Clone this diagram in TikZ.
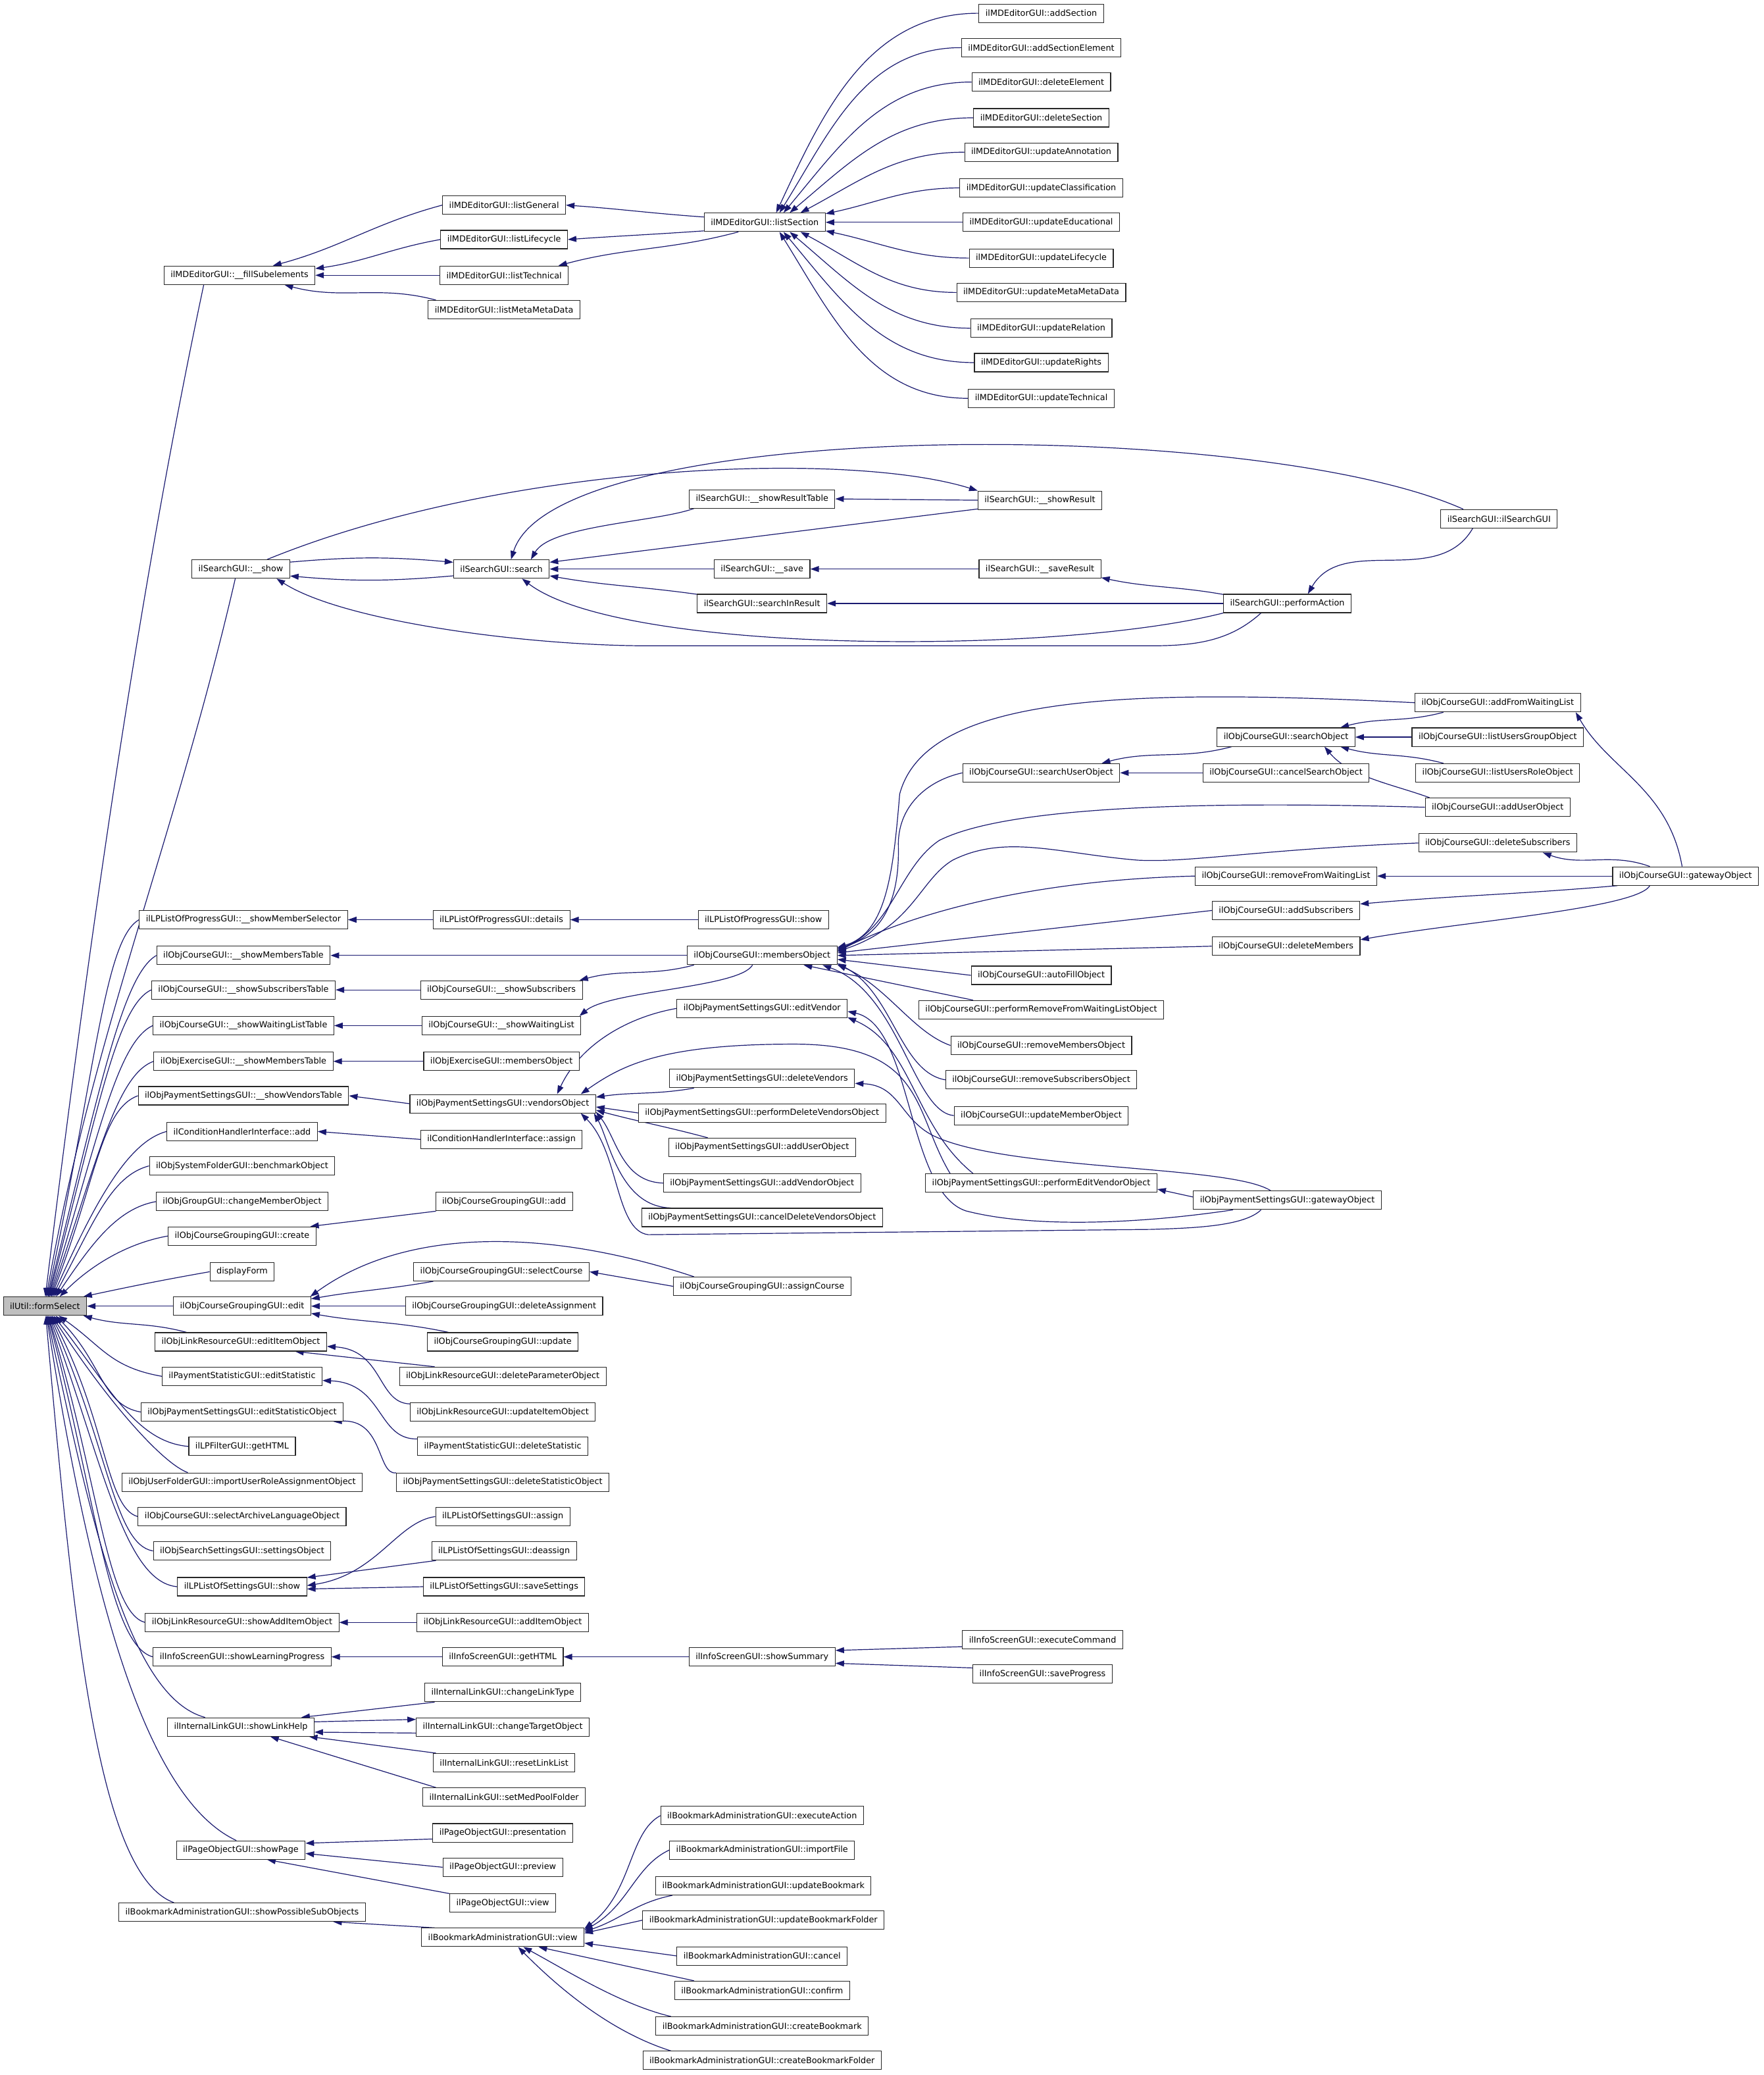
\documentclass[tikz,border=0pt]{standalone}
\usepackage{fontspec}
\setmainfont{DejaVu Sans}
\usetikzlibrary{arrows.meta,backgrounds}
\definecolor{edgeblue}{HTML}{191970}
\definecolor{curgray}{HTML}{BFBFBF}

\begin{document}
\begin{tikzpicture}[x=2.0105pt,y=-2.0105pt,
    every node/.style={font={\fontsize{12.8}{14}\selectfont}},
    fn/.style={rectangle,draw=black!85,line width=1.1pt,fill=white,minimum height=28pt,inner xsep=10pt,inner ysep=0pt},
    fncur/.style={fn,fill=curgray},
    call/.style={draw=edgeblue,line width=1.2pt,-{Triangle[length=13pt,width=9pt]}},
]
\useasboundingbox (0,0) rectangle (1333,1568);

% the function itself
\node[fncur] (fs) at (34,987) {ilUtil::formSelect};

% first level callers
\node[fn] (mdfill)      at (181,208)  {ilMDEditorGUI::\_\_fillSubelements};
\node[fn] (srshow)      at (182,430)  {ilSearchGUI::\_\_show};
\node[fn] (lpsel)       at (184,695)  {ilLPListOfProgressGUI::\_\_showMemberSelector};
\node[fn] (crsmemtab)   at (184,722)  {ilObjCourseGUI::\_\_showMembersTable};
\node[fn] (crssubtab)   at (184,748)  {ilObjCourseGUI::\_\_showSubscribersTable};
\node[fn] (crswaittab)  at (184,775)  {ilObjCourseGUI::\_\_showWaitingListTable};
\node[fn] (exctab)      at (184,802)  {ilObjExerciseGUI::\_\_showMembersTable};
\node[fn] (payventab)   at (184,828)  {ilObjPaymentSettingsGUI::\_\_showVendorsTable};
\node[fn] (condadd)     at (183,855)  {ilConditionHandlerInterface::add};
\node[fn] (sysbench)    at (183,881)  {ilObjSystemFolderGUI::benchmarkObject};
\node[fn] (grpchange)   at (183,908)  {ilObjGroupGUI::changeMemberObject};
\node[fn] (cgcreate)    at (183,934)  {ilObjCourseGroupingGUI::create};
\node[fn] (dispform)    at (183,961)  {displayForm};
\node[fn] (cgedit)      at (183,987)  {ilObjCourseGroupingGUI::edit};
\node[fn] (lredit)      at (182,1014) {ilObjLinkResourceGUI::editItemObject};
\node[fn] (psedit)      at (183,1040) {ilPaymentStatisticGUI::editStatistic};
\node[fn] (payeditstat) at (183,1067) {ilObjPaymentSettingsGUI::editStatisticObject};
\node[fn] (lpfilter)    at (183,1093) {ilLPFilterGUI::getHTML};
\node[fn] (usrimport)   at (183,1120) {ilObjUserFolderGUI::importUserRoleAssignmentObject};
\node[fn] (crsarch)     at (183,1146) {ilObjCourseGUI::selectArchiveLanguageObject};
\node[fn] (srset)       at (183,1172) {ilObjSearchSettingsGUI::settingsObject};
\node[fn] (lpsetshow)   at (183,1199) {ilLPListOfSettingsGUI::show};
\node[fn] (lrshowadd)   at (183,1226) {ilObjLinkResourceGUI::showAddItemObject};
\node[fn] (infolp)      at (183,1252) {ilInfoScreenGUI::showLearningProgress};
\node[fn] (ilhelp)      at (182,1305) {ilInternalLinkGUI::showLinkHelp};
\node[fn] (pgshow)      at (182,1398) {ilPageObjectGUI::showPage};
\node[fn] (bmsub)       at (183,1445) {ilBookmarkAdministrationGUI::showPossibleSubObjects};

% second level
\node[fn] (mdgen)       at (381,155)  {ilMDEditorGUI::listGeneral};
\node[fn] (mdlife)      at (381,181)  {ilMDEditorGUI::listLifecycle};
\node[fn] (mdtech)      at (381,208)  {ilMDEditorGUI::listTechnical};
\node[fn] (mdmeta)      at (381,234)  {ilMDEditorGUI::listMetaMetaData};
\node[fn] (srsearch)    at (379,430)  {ilSearchGUI::search};
\node[fn] (lpdet)       at (379,695)  {ilLPListOfProgressGUI::details};
\node[fn] (crssub)      at (379,748)  {ilObjCourseGUI::\_\_showSubscribers};
\node[fn] (crswait)     at (379,775)  {ilObjCourseGUI::\_\_showWaitingList};
\node[fn] (excmem)      at (379,802)  {ilObjExerciseGUI::membersObject};
\node[fn] (payven)      at (380,834)  {ilObjPaymentSettingsGUI::vendorsObject};
\node[fn] (condassign)  at (379,861)  {ilConditionHandlerInterface::assign};
\node[fn] (cgadd)       at (381,908)  {ilObjCourseGroupingGUI::add};
\node[fn] (cgselect)    at (379,961)  {ilObjCourseGroupingGUI::selectCourse};
\node[fn] (cgdelassign) at (381,987)  {ilObjCourseGroupingGUI::deleteAssignment};
\node[fn] (cgupdate)    at (380,1014) {ilObjCourseGroupingGUI::update};
\node[fn] (lrdelparam)  at (380,1040) {ilObjLinkResourceGUI::deleteParameterObject};
\node[fn] (lrupdate)    at (380,1067) {ilObjLinkResourceGUI::updateItemObject};
\node[fn] (psdel)       at (380,1093) {ilPaymentStatisticGUI::deleteStatistic};
\node[fn] (paydelstat)  at (380,1120) {ilObjPaymentSettingsGUI::deleteStatisticObject};
\node[fn] (lpassign)    at (380,1146) {ilLPListOfSettingsGUI::assign};
\node[fn] (lpdeassign)  at (381,1172) {ilLPListOfSettingsGUI::deassign};
\node[fn] (lpsave)      at (381,1199) {ilLPListOfSettingsGUI::saveSettings};
\node[fn] (lradd)       at (380,1226) {ilObjLinkResourceGUI::addItemObject};
\node[fn] (infohtml)    at (380,1252) {ilInfoScreenGUI::getHTML};
\node[fn] (illtype)     at (380,1279) {ilInternalLinkGUI::changeLinkType};
\node[fn] (iltarget)    at (380,1305) {ilInternalLinkGUI::changeTargetObject};
\node[fn] (ilreset)     at (381,1332) {ilInternalLinkGUI::resetLinkList};
\node[fn] (ilmedpool)   at (381,1358) {ilInternalLinkGUI::setMedPoolFolder};
\node[fn] (pgpres)      at (380,1385) {ilPageObjectGUI::presentation};
\node[fn] (pgprev)      at (380,1411) {ilPageObjectGUI::preview};
\node[fn] (pgview)      at (380,1438) {ilPageObjectGUI::view};
\node[fn] (bmview)      at (380,1464) {ilBookmarkAdministrationGUI::view};

% third level
\node[fn] (mdsec)       at (578,168)  {ilMDEditorGUI::listSection};
\node[fn] (srtable)     at (576,377)  {ilSearchGUI::\_\_showResultTable};
\node[fn] (srsave)      at (576,430)  {ilSearchGUI::\_\_save};
\node[fn] (srinres)     at (576,456)  {ilSearchGUI::searchInResult};
\node[fn] (lpshow)      at (577,695)  {ilLPListOfProgressGUI::show};
\node[fn] (crsmem)      at (576,722)  {ilObjCourseGUI::membersObject};
\node[fn] (payeditv)    at (576,762)  {ilObjPaymentSettingsGUI::editVendor};
\node[fn] (paydelv)     at (576,815)  {ilObjPaymentSettingsGUI::deleteVendors};
\node[fn] (payperfdel)  at (576,841)  {ilObjPaymentSettingsGUI::performDeleteVendorsObject};
\node[fn] (payadduser)  at (576,867)  {ilObjPaymentSettingsGUI::addUserObject};
\node[fn] (payaddven)   at (576,894)  {ilObjPaymentSettingsGUI::addVendorObject};
\node[fn] (paycancel)   at (576,920)  {ilObjPaymentSettingsGUI::cancelDeleteVendorsObject};
\node[fn] (cgassign)    at (576,972)  {ilObjCourseGroupingGUI::assignCourse};
\node[fn] (infosum)     at (576,1252) {ilInfoScreenGUI::showSummary};
\node[fn] (bmexec)      at (576,1372) {ilBookmarkAdministrationGUI::executeAction};
\node[fn] (bmimport)    at (576,1398) {ilBookmarkAdministrationGUI::importFile};
\node[fn] (bmupdbm)     at (577,1425) {ilBookmarkAdministrationGUI::updateBookmark};
\node[fn] (bmupdfold)   at (577,1451) {ilBookmarkAdministrationGUI::updateBookmarkFolder};
\node[fn] (bmcancel)    at (576,1478) {ilBookmarkAdministrationGUI::cancel};
\node[fn] (bmconfirm)   at (576,1504) {ilBookmarkAdministrationGUI::confirm};
\node[fn] (bmcreate)    at (576,1531) {ilBookmarkAdministrationGUI::createBookmark};
\node[fn] (bmcreatef)   at (576,1557) {ilBookmarkAdministrationGUI::createBookmarkFolder};

% fourth level
\node[fn] (mdaddsec)    at (787,10)   {ilMDEditorGUI::addSection};
\node[fn] (mdaddel)     at (787,36)   {ilMDEditorGUI::addSectionElement};
\node[fn] (mddelel)     at (787,62)   {ilMDEditorGUI::deleteElement};
\node[fn] (mddelsec)    at (787,89)   {ilMDEditorGUI::deleteSection};
\node[fn] (mdupann)     at (787,115)  {ilMDEditorGUI::updateAnnotation};
\node[fn] (mdupclass)   at (787,142)  {ilMDEditorGUI::updateClassification};
\node[fn] (mdupedu)     at (787,168)  {ilMDEditorGUI::updateEducational};
\node[fn] (mduplife)    at (787,195)  {ilMDEditorGUI::updateLifecycle};
\node[fn] (mdupmeta)    at (787,221)  {ilMDEditorGUI::updateMetaMetaData};
\node[fn] (mduprel)     at (787,248)  {ilMDEditorGUI::updateRelation};
\node[fn] (mduprights)  at (787,274)  {ilMDEditorGUI::updateRights};
\node[fn] (mduptech)    at (787,301)  {ilMDEditorGUI::updateTechnical};
\node[fn] (srres)       at (786,378)  {ilSearchGUI::\_\_showResult};
\node[fn] (srsaveres)   at (786,430)  {ilSearchGUI::\_\_saveResult};
\node[fn] (crssearchu)  at (787,584)  {ilObjCourseGUI::searchUserObject};
\node[fn] (crsauto)     at (787,737)  {ilObjCourseGUI::autoFillObject};
\node[fn] (crsperfrem)  at (787,763)  {ilObjCourseGUI::performRemoveFromWaitingListObject};
\node[fn] (crsremmem)   at (787,790)  {ilObjCourseGUI::removeMembersObject};
\node[fn] (crsremsub)   at (787,816)  {ilObjCourseGUI::removeSubscribersObject};
\node[fn] (crsupdmem)   at (787,843)  {ilObjCourseGUI::updateMemberObject};
\node[fn] (payperfedit) at (787,894)  {ilObjPaymentSettingsGUI::performEditVendorObject};
\node[fn] (infoexec)    at (788,1239) {ilInfoScreenGUI::executeCommand};
\node[fn] (infosave)    at (788,1265) {ilInfoScreenGUI::saveProgress};

% fifth level and beyond
\node[fn] (srperf)      at (973,456)  {ilSearchGUI::performAction};
\node[fn] (crssearch)   at (972,557)  {ilObjCourseGUI::searchObject};
\node[fn] (crscancelsearch) at (972,584) {ilObjCourseGUI::cancelSearchObject};
\node[fn] (crsremwait)  at (972,662)  {ilObjCourseGUI::removeFromWaitingList};
\node[fn] (crsaddsub)   at (972,688)  {ilObjCourseGUI::addSubscribers};
\node[fn] (crsdelmem)   at (972,715)  {ilObjCourseGUI::deleteMembers};
\node[fn] (paygate)     at (973,907)  {ilObjPaymentSettingsGUI::gatewayObject};
\node[fn] (srctor)      at (1133,392) {ilSearchGUI::ilSearchGUI};
\node[fn] (crsaddwait)  at (1132,531) {ilObjCourseGUI::addFromWaitingList};
\node[fn] (crslistgrp)  at (1132,557) {ilObjCourseGUI::listUsersGroupObject};
\node[fn] (crslistrole) at (1132,584) {ilObjCourseGUI::listUsersRoleObject};
\node[fn] (crsadduser)  at (1132,610) {ilObjCourseGUI::addUserObject};
\node[fn] (crsdelsub)   at (1132,637) {ilObjCourseGUI::deleteSubscribers};
\node[fn] (crsgate)     at (1274,662) {ilObjCourseGUI::gatewayObject};

\begin{scope}[on background layer]
\fill[white] (0,0) rectangle (1333,1568);

% callers of formSelect
\draw[call] (mdfill.195) .. controls +(258:500pt) and +(83:500pt) .. (fs.88);
\draw[call] (srshow.240) .. controls +(257:400pt) and +(80:400pt) .. (fs.82);
\draw[call] (lpsel.west) .. controls +(210:60pt) and +(78:360pt) .. (fs.76);
\draw[call] (crsmemtab.west) .. controls +(210:60pt) and +(76:320pt) .. (fs.72);
\draw[call] (crssubtab.west) .. controls +(205:60pt) and +(75:280pt) .. (fs.68);
\draw[call] (crswaittab.west) .. controls +(205:60pt) and +(73:250pt) .. (fs.64);
\draw[call] (exctab.west) .. controls +(200:60pt) and +(71:220pt) .. (fs.60);
\draw[call] (payventab.west) .. controls +(200:60pt) and +(69:190pt) .. (fs.56);
\draw[call] (condadd.west) .. controls +(195:60pt) and +(66:160pt) .. (fs.51);
\draw[call] (sysbench.west) .. controls +(195:60pt) and +(62:130pt) .. (fs.46);
\draw[call] (grpchange.west) .. controls +(190:60pt) and +(56:96pt) .. (fs.41);
\draw[call] (cgcreate.west) .. controls +(190:60pt) and +(45:70pt) .. (fs.33);
\draw[call] (dispform.west) to[out=190,in=12] (fs.14);
\draw[call] (cgedit.west) -- (fs.east);
\draw[call] (lredit.170) to[out=165,in=-15] (fs.-14);
\draw[call] (psedit.west) .. controls +(170:80pt) and +(-35:80pt) .. (fs.-35);
\draw[call] (payeditstat.west) .. controls +(170:60pt) and +(-45:100pt) .. (fs.-42);
\draw[call] (lpfilter.west) .. controls +(175:80pt) and +(-52:140pt) .. (fs.-48);
\draw[call] (usrimport.170) .. controls +(160:40pt) and +(-57:160pt) .. (fs.-54);
\draw[call] (crsarch.west) .. controls +(165:50pt) and +(-62:180pt) .. (fs.-58);
\draw[call] (srset.west) .. controls +(170:60pt) and +(-66:220pt) .. (fs.-63);
\draw[call] (lpsetshow.west) .. controls +(175:80pt) and +(-70:240pt) .. (fs.-67);
\draw[call] (lrshowadd.west) .. controls +(165:60pt) and +(-73:260pt) .. (fs.-71);
\draw[call] (infolp.west) .. controls +(165:70pt) and +(-75:280pt) .. (fs.-74);
\draw[call] (ilhelp.165) .. controls +(165:120pt) and +(-78:320pt) .. (fs.-78);
\draw[call] (pgshow.115) .. controls +(155:160pt) and +(-81:400pt) .. (fs.-81);
\draw[call] (bmsub.172) .. controls +(160:120pt) and +(-85:500pt) .. (fs.-85);

% metadata editor
\draw[call] (mdgen.west) to[out=195,in=15] (mdfill.16);
\draw[call] (mdlife.west) to[out=190,in=8] (mdfill.5);
\draw[call] (mdtech.west) -- (mdfill.east);
\draw[call] (mdmeta.172) to[out=165,in=-15] (mdfill.-12);
\draw[call] (mdsec.175) to[out=176,in=-4] (mdgen.east);
\draw[call] (mdsec.188) to[out=184,in=4] (mdlife.east);
\draw[call] (mdsec.200) to[out=195,in=15] (mdtech.10);
\draw[call] (mdaddsec.west) to[out=180,in=65] (mdsec.40);
\draw[call] (mdaddel.west) to[out=180,in=58] (mdsec.33);
\draw[call] (mddelel.west) to[out=180,in=50] (mdsec.27);
\draw[call] (mddelsec.west) to[out=180,in=40] (mdsec.21);
\draw[call] (mdupann.west) to[out=180,in=28] (mdsec.15);
\draw[call] (mdupclass.west) to[out=180,in=12] (mdsec.8);
\draw[call] (mdupedu.west) -- (mdsec.east);
\draw[call] (mduplife.west) to[out=180,in=-12] (mdsec.-8);
\draw[call] (mdupmeta.west) to[out=180,in=-28] (mdsec.-15);
\draw[call] (mduprel.west) to[out=180,in=-40] (mdsec.-21);
\draw[call] (mduprights.west) to[out=180,in=-50] (mdsec.-27);
\draw[call] (mduptech.west) to[out=180,in=-58] (mdsec.-33);

% search
\draw[call] (srshow.8) to[out=5,in=175] (srsearch.172);
\draw[call] (srsearch.188) to[out=185,in=-5] (srshow.-8);
\draw[call] (srshow.20) .. controls (380,350) and (640,340) .. (srres.north west);
\draw[call] (srres.188) to[out=187,in=7] (srsearch.8);
\draw[call] (srres.west) -- (srtable.east);
\draw[call] (srtable.188) .. controls +(200:60pt) and +(60:60pt) .. (srsearch.18);
\draw[call] (srsave.west) -- (srsearch.east);
\draw[call] (srsaveres.west) -- (srsave.east);
\draw[call] (srinres.172) to[out=172,in=-10] (srsearch.-8);
\draw[call] (srperf.west) -- (srinres.east);
\draw[call] (srperf.172) to[out=170,in=-12] (srsaveres.-8);
\draw[call] (srperf.south west) .. controls (800,495) and (470,495) .. (srsearch.-25);
\draw[call] (srperf.200) .. controls (930,484) and (905,488) .. (870,488) -- (490,488) .. controls (400,488) and (260,470) .. (srshow.-15);
\draw[call] (srctor.165) .. controls (950,315) and (420,315) .. (srsearch.45);
\draw[call] (srctor.200) to[out=240,in=60] (srperf.25);

% learning progress
\draw[call] (lpshow.west) -- (lpdet.east);
\draw[call] (lpdet.west) -- (lpsel.east);

% course members
\draw[call] (crsmem.west) -- (crsmemtab.east);
\draw[call] (crsmem.188) to[out=195,in=15] (crssub.7);
\draw[call] (crsmem.225) .. controls +(240:40pt) and +(40:60pt) .. (crswait.7);
\draw[call] (crssub.west) -- (crssubtab.east);
\draw[call] (crswait.west) -- (crswaittab.east);
\draw[call] (excmem.west) -- (exctab.east);
\draw[call] (crsaddwait.west) .. controls (850,520) and (700,525) .. (680,600) .. controls (675,660) and (670,705) .. (crsmem.6);
\draw[call] (crssearchu.west) .. controls (700,590) and (678,610) .. (679,640) .. controls (680,690) and (660,708) .. (crsmem.5);
\draw[call] (crsadduser.west) .. controls (900,605) and (760,610) .. (710,635) .. controls (680,655) and (675,700) .. (crsmem.4);
\draw[call] (crsdelsub.west) .. controls (950,642) and (900,652) .. (860,650) .. controls (800,645) and (760,630) .. (720,650) .. controls (695,665) and (690,700) .. (crsmem.3);
\draw[call] (crsremwait.west) .. controls (780,665) and (690,690) .. (crsmem.3);
\draw[call] (crsaddsub.west) -- (crsmem.2);
\draw[call] (crsdelmem.west) -- (crsmem.0);
\draw[call] (crsauto.west) -- (crsmem.-3);
\draw[call] (crsperfrem.172) -- (crsmem.-13);
\draw[call] (crsremmem.west) .. controls (690,780) and (670,745) .. (crsmem.-7);
\draw[call] (crsremsub.west) .. controls (680,810) and (675,750) .. (crsmem.-6);
\draw[call] (crsupdmem.west) .. controls (690,840) and (680,750) .. (crsmem.-9);
\draw[call] (crssearch.190) to[out=195,in=15] (crssearchu.9);
\draw[call] (crscancelsearch.west) -- (crssearchu.east);
\draw[call] (crsaddwait.190) to[out=195,in=15] (crssearch.10);
\draw[call] (crslistgrp.west) -- (crssearch.east);
\draw[call] (crslistrole.170) to[out=165,in=-15] (crssearch.-10);
\draw[call] (crsadduser.172) .. controls +(160:60pt) and +(-50:60pt) .. (crssearch.-14);
\draw[call] (crsgate.110) .. controls +(100:120pt) and +(-60:100pt) .. (crsaddwait.-7);
\draw[call] (crsgate.165) to[out=160,in=-20] (crsdelsub.-12);
\draw[call] (crsgate.west) -- (crsremwait.east);
\draw[call] (crsgate.188) to[out=185,in=5] (crsaddsub.5);
\draw[call] (crsgate.195) .. controls +(240:40pt) and +(10:160pt) .. (crsdelmem.5);

% payment vendors
\draw[call] (payven.west) -- (payventab.east);
\draw[call] (payeditv.west) .. controls +(190:80pt) and +(65:80pt) .. (payven.10);
\draw[call] (paydelv.188) to[out=190,in=8] (payven.4);
\draw[call] (payperfdel.west) -- (payven.-2);
\draw[call] (payadduser.170) to[out=165,in=-15] (payven.-4);
\draw[call] (payaddven.west) .. controls (470,893) and (466,860) .. (payven.-5);
\draw[call] (paycancel.174) .. controls (468,912) and (460,860) .. (payven.-6);
\draw[call] (paygate.200) .. controls (940,927) and (900,928) .. (870,929) -- (490,933) .. controls (465,930) and (468,870) .. (payven.-7);
\draw[call] (payperfedit.174) .. controls (690,840) and (700,789) .. (600,789) .. controls (500,789) and (470,805) .. (payven.7);
\draw[call] (payperfedit.172) .. controls (690,850) and (690,790) .. (payeditv.-6);
\draw[call] (paygate.190) .. controls (860,925) and (780,928) .. (730,915) .. controls (685,900) and (690,775) .. (payeditv.-2);
\draw[call] (paygate.150) .. controls (930,880) and (760,885) .. (705,858) .. controls (680,845) and (680,820) .. (paydelv.-3);
\draw[call] (paygate.178) -- (payperfedit.-3);

% conditions and course grouping
\draw[call] (condassign.west) -- (condadd.east);
\draw[call] (cgadd.188) -- (cgcreate.8);
\draw[call] (cgselect.188) to[out=190,in=10] (cgedit.6);
\draw[call] (cgdelassign.west) -- (cgedit.east);
\draw[call] (cgupdate.170) to[out=168,in=-10] (cgedit.-6);
\draw[call] (cgassign.172) .. controls (420,930) and (310,925) .. (cgedit.8);
\draw[call] (cgassign.west) -- (cgselect.east);

% link resources, statistics
\draw[call] (lrdelparam.172) -- (lredit.-10);
\draw[call] (lrupdate.175) .. controls (285,1060) and (290,1020) .. (lredit.-3);
\draw[call] (psdel.175) .. controls (285,1088) and (290,1045) .. (psedit.-3);
\draw[call] (paydelstat.175) .. controls (285,1115) and (290,1072) .. (payeditstat.-6);

% LP settings, info screen
\draw[call] (lpassign.west) .. controls (300,1150) and (285,1190) .. (lpsetshow.1);
\draw[call] (lpdeassign.188) -- (lpsetshow.8);
\draw[call] (lpsave.west) -- (lpsetshow.-2);
\draw[call] (lradd.west) -- (lrshowadd.east);
\draw[call] (infohtml.west) -- (infolp.east);
\draw[call] (infosum.west) -- (infohtml.east);
\draw[call] (infoexec.185) -- (infosum.5);
\draw[call] (infosave.175) -- (infosum.-5);

% internal links
\draw[call] (illtype.188) -- (ilhelp.9);
\draw[call] (ilhelp.4) -- (iltarget.175);
\draw[call] (iltarget.184) -- (ilhelp.-4);
\draw[call] (ilreset.172) -- (ilhelp.-8);
\draw[call] (ilmedpool.172) -- (ilhelp.-18);

% pages and bookmarks
\draw[call] (pgpres.185) -- (pgshow.6);
\draw[call] (pgprev.west) -- (pgshow.-3);
\draw[call] (pgview.170) -- (pgshow.-20);
\draw[call] (bmview.172) -- (bmsub.-6);
\draw[call] (bmexec.west) .. controls (475,1385) and (478,1430) .. (bmview.6);
\draw[call] (bmimport.west) .. controls (480,1410) and (475,1440) .. (bmview.5);
\draw[call] (bmupdbm.186) .. controls (480,1438) and (470,1450) .. (bmview.4);
\draw[call] (bmupdfold.west) -- (bmview.3);
\draw[call] (bmcancel.west) -- (bmview.-4);
\draw[call] (bmconfirm.172) -- (bmview.-15);
\draw[call] (bmcreate.174) .. controls (470,1515) and (430,1490) .. (bmview.-25);
\draw[call] (bmcreatef.174) .. controls (460,1535) and (420,1500) .. (bmview.-32);
\end{scope}
\end{tikzpicture}
\end{document}
